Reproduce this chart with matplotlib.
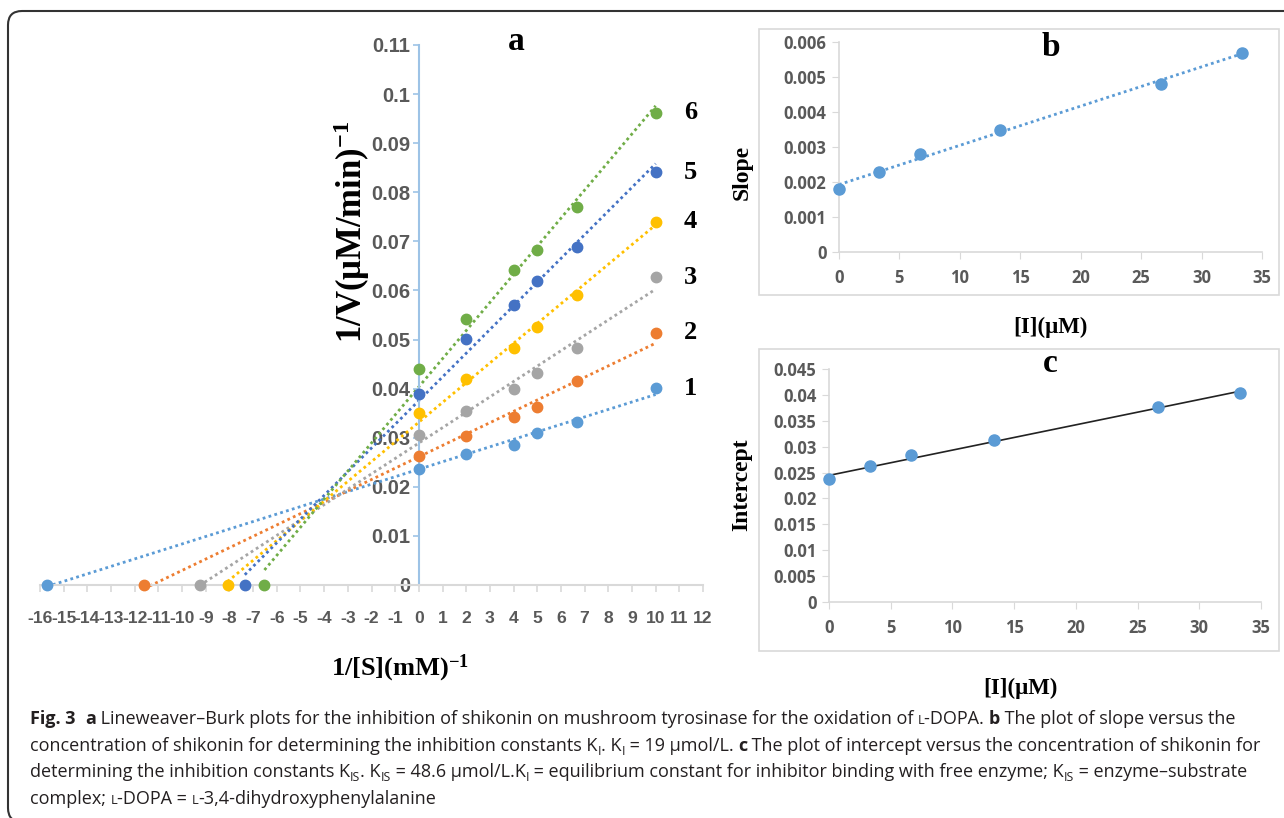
import numpy as np
import matplotlib
matplotlib.use('Agg')
import matplotlib.pyplot as plt
from matplotlib.patches import FancyBboxPatch, Rectangle
from matplotlib.transforms import IdentityTransform

plt.rcParams['axes.unicode_minus'] = False
plt.rcParams['mathtext.fontset'] = 'custom'
plt.rcParams['mathtext.rm'] = 'Liberation Serif:bold'
plt.rcParams['mathtext.it'] = 'Liberation Serif:bold'
plt.rcParams['mathtext.bf'] = 'Liberation Serif:bold'

#---------------- ДАНІ ----------------
# панель a: 1/[S] та 1/V для шести концентрацій інгібітора
inv_s = [0, 2, 4, 5, 6.67, 10]
inv_v1 = [0.0236, 0.0267, 0.0286, 0.0310, 0.0333, 0.0401]
inv_v2 = [0.0263, 0.0303, 0.0342, 0.0363, 0.0415, 0.0514]
inv_v3 = [0.0306, 0.0355, 0.0399, 0.0432, 0.0482, 0.0627]
inv_v4 = [0.0350, 0.0420, 0.0483, 0.0526, 0.0590, 0.0740]
inv_v5 = [0.0389, 0.0501, 0.0571, 0.0620, 0.0688, 0.0841]
inv_v6 = [0.0440, 0.0541, 0.0641, 0.0682, 0.0771, 0.0962]
# точки перетину з віссю x (-1/Km)
x_int = [-15.7, -11.6, -9.26, -8.08, -7.35, -6.52]
series_names = ['1', '2', '3', '4', '5', '6']
series_colors = ['#5B9BD5', '#ED7D31', '#A5A5A5', '#FFC000', '#4472C4', '#70AD47']

# панелі b, c: концентрація інгібітора
conc_i = [0, 3.33, 6.67, 13.33, 26.67, 33.33]
slopes = [0.0018, 0.0023, 0.0028, 0.0035, 0.0048, 0.0057]
intercepts = [0.0237, 0.0262, 0.0283, 0.0312, 0.0376, 0.0404]

a_xticks = list(range(-16, 13))
a_yticks = [0, 0.01, 0.02, 0.03, 0.04, 0.05, 0.06, 0.07, 0.08, 0.09, 0.1, 0.11]
b_yticks = [0, 0.001, 0.002, 0.003, 0.004, 0.005, 0.006]
c_yticks = [0, 0.005, 0.01, 0.015, 0.02, 0.025, 0.03, 0.035, 0.04, 0.045]
bc_xticks = [0, 5, 10, 15, 20, 25, 30, 35]

W, H = 1284, 818
fig = plt.figure(figsize=(W / 100, H / 100), dpi=100)


def px_axes(x0, x1, y0, y1):
    # x0,x1 зліва направо; y0 верх, y1 низ (пікселі зверху)
    return fig.add_axes([x0 / W, 1 - y1 / H, (x1 - x0) / W, (y1 - y0) / H])


def ftext(x, y, s, **kw):
    return fig.text(x / W, 1 - y / H, s, **kw)


serif = ['Liberation Serif', 'DejaVu Serif']
narrow = ['Liberation Sans Narrow', 'Liberation Sans', 'DejaVu Sans']
gray = '#595959'

#==========Панель a==========
ax = px_axes(40, 703, 45, 585)
ys_all = [inv_v1, inv_v2, inv_v3, inv_v4, inv_v5, inv_v6]
for ys, xi, col, name in zip(ys_all, x_int, series_colors, series_names):
    xx = [xi] + inv_s
    yy = [0] + ys
    k, b = np.polyfit(xx, yy, 1)
    xl = np.array([xi, inv_s[-1]])
    ax.plot(xl, k * xl + b, ls=(0, (1, 1.2)), lw=2, color=col, clip_on=False, zorder=2)
    ax.plot(xx, yy, 'o', ms=7.5, color=col, clip_on=False, zorder=3)
    ax.text(11.2, ys[-1], name, fontsize=19, fontweight='bold', family=serif,
            va='center', ha='left')

ax.set_xlim(-16, 12)
ax.set_ylim(0, 0.11)
for s in ['top', 'right']:
    ax.spines[s].set_visible(False)
ax.spines['left'].set_position(('data', 0))
ax.spines['left'].set_color('#9DC3E6')
ax.spines['left'].set_linewidth(1.5)
ax.spines['bottom'].set_color('#D9D9D9')
ax.spines['bottom'].set_linewidth(1.5)
ax.set_xticks(a_xticks)
ax.set_xticklabels([str(t) for t in a_xticks])
ax.set_yticks(a_yticks)
ax.set_yticklabels(['{:g}'.format(t) for t in a_yticks])
ax.tick_params(axis='x', direction='out', length=5, width=1.2, color='#D9D9D9', pad=14)
ax.tick_params(axis='y', direction='out', length=4, width=1.2, color='#9DC3E6', pad=2)
for lab in ax.get_yticklabels():
    lab.set_family(narrow)
    lab.set_fontweight('bold')
    lab.set_fontsize(14.5)
    lab.set_color(gray)
for lab in ax.get_xticklabels():
    lab.set_family(narrow)
    lab.set_fontweight('bold')
    lab.set_fontsize(12.6)
    lab.set_color(gray)
ax.patch.set_alpha(0)

ftext(352, 232, r'1/V(μM/min)$^{-1}$', rotation=90, fontsize=25, fontweight='bold',
      family=serif, ha='center', va='center')
ftext(400, 668, r'1/[S](mM)$^{-1}$', fontsize=19, fontweight='bold',
      family=serif, ha='center', va='center')
ftext(516, 42, 'a', fontsize=24, fontweight='bold', family=serif, ha='center', va='center')


#==========Панелі b, c==========
def small_panel(box, area, ys, yticks, ylim, ylabel, ylab_pos, xlab_pos, letter, letter_pos,
                line_kw):
    fig.patches.append(Rectangle((box[0] / W, 1 - box[3] / H), (box[1] - box[0]) / W,
                                 (box[3] - box[2]) / H, transform=fig.transFigure,
                                 fill=False, ec='#D9D9D9', lw=1.2))
    bx = px_axes(*area)
    k, b = np.polyfit(conc_i, ys, 1)
    xl = np.array([conc_i[0], conc_i[-1]])
    bx.plot(xl, k * xl + b, zorder=2, **line_kw)
    bx.plot(conc_i, ys, 'o', ms=8, color='#5B9BD5', clip_on=False, zorder=3)
    bx.set_xlim(0, 35)
    bx.set_ylim(*ylim)
    for s in ['top', 'right']:
        bx.spines[s].set_visible(False)
    for s in ['left', 'bottom']:
        bx.spines[s].set_color('#D9D9D9')
        bx.spines[s].set_linewidth(1.2)
    bx.set_xticks(bc_xticks)
    bx.set_yticks(yticks)
    bx.set_yticklabels(['{:g}'.format(t) for t in yticks])
    bx.tick_params(axis='x', length=5, color='#D9D9D9', pad=7)
    bx.tick_params(axis='y', length=5, color='#D9D9D9', pad=4)
    for lab in bx.get_xticklabels() + bx.get_yticklabels():
        lab.set_family(['Open Sans', 'DejaVu Sans'])
        lab.set_fontweight('bold')
        lab.set_fontsize(12)
        lab.set_color(gray)
    bx.patch.set_alpha(0)
    ftext(ylab_pos[0], ylab_pos[1], ylabel, rotation=90, fontsize=17, fontweight='bold',
          family=serif, ha='center', va='center')
    ftext(xlab_pos[0], xlab_pos[1], '[I](μM)', fontsize=16.5, fontweight='bold',
          family=serif, ha='center', va='center')
    ftext(letter_pos[0], letter_pos[1], letter, fontsize=24, fontweight='bold',
          family=serif, ha='center', va='center')


small_panel((759, 1279, 29, 295), (839, 1262, 42, 252), slopes, b_yticks, (0, 0.006),
            'Slope', (742, 172), (1050, 327), 'b', (1051, 48),
            dict(ls=(0, (1, 1.2)), lw=2, color='#5B9BD5'))
small_panel((759, 1279, 349, 651), (829, 1261, 369, 602), intercepts, c_yticks, (0, 0.045),
            'Intercept', (742, 485), (1020, 688), 'c', (1050, 364),
            dict(ls='-', lw=1.2, color='#222222'))

#==========Рамка==========
fig.patches.append(FancyBboxPatch((8, H - 822), 1320, 822 - 11,
                                  boxstyle='round,pad=0,rounding_size=14',
                                  transform=IdentityTransform(), fill=False,
                                  ec='#333333', lw=1.5))

#==========Підпис==========
fig.canvas.draw()
renderer = fig.canvas.get_renderer()
cap_font = ['Open Sans', 'DejaVu Sans']
cap_size = 12.95
cap_color = '#231F20'


def style(kind):
    kw = dict(family=cap_font, color=cap_color, fontsize=cap_size, fontweight='normal')
    if kind == 'b':
        kw['fontweight'] = 'bold'
    elif kind == 'sub':
        kw['fontsize'] = cap_size * 0.68
    elif kind == 'sc':
        kw['fontsize'] = cap_size * 0.72
    return kw


def text_w(s, kw):
    t1 = fig.text(0, 0, '|' + s + '|', **kw)
    t0 = fig.text(0, 0, '||', **kw)
    w = t1.get_window_extent(renderer).width - t0.get_window_extent(renderer).width
    t1.remove()
    t0.remove()
    return w


def put_runs(x, y, runs):
    for s, kind in runs:
        kw = style(kind)
        dy = 4 if kind == 'sub' else 0
        ftext(x, y + dy, s, va='baseline', ha='left', **kw)
        x += text_w(s, kw)


cap_lines = [
    [('Fig. 3', 'b'), ('  ', 'n'), ('a', 'b'),
     (' Lineweaver–Burk plots for the inhibition of shikonin on mushroom tyrosinase for the oxidation of ', 'n'),
     ('L', 'sc'), ('-DOPA. ', 'n'), ('b', 'b'), (' The plot of slope versus the', 'n')],
    [('concentration of shikonin for determining the inhibition constants K', 'n'), ('I', 'sub'),
     ('. K', 'n'), ('I', 'sub'), (' = 19 μmol/L. ', 'n'), ('c', 'b'),
     (' The plot of intercept versus the concentration of shikonin for', 'n')],
    [('determining the inhibition constants K', 'n'), ('IS', 'sub'), ('. K', 'n'), ('IS', 'sub'),
     (' = 48.6 μmol/L.K', 'n'), ('I', 'sub'),
     (' = equilibrium constant for inhibitor binding with free enzyme; K', 'n'), ('IS', 'sub'),
     (' = enzyme–substrate', 'n')],
    [('complex; ', 'n'), ('L', 'sc'), ('-DOPA = ', 'n'), ('L', 'sc'),
     ('-3,4-dihydroxyphenylalanine', 'n')],
]
for i, runs in enumerate(cap_lines):
    put_runs(30, 724 + i * 26.7, runs)

fig.savefig('out.png', dpi=100)
